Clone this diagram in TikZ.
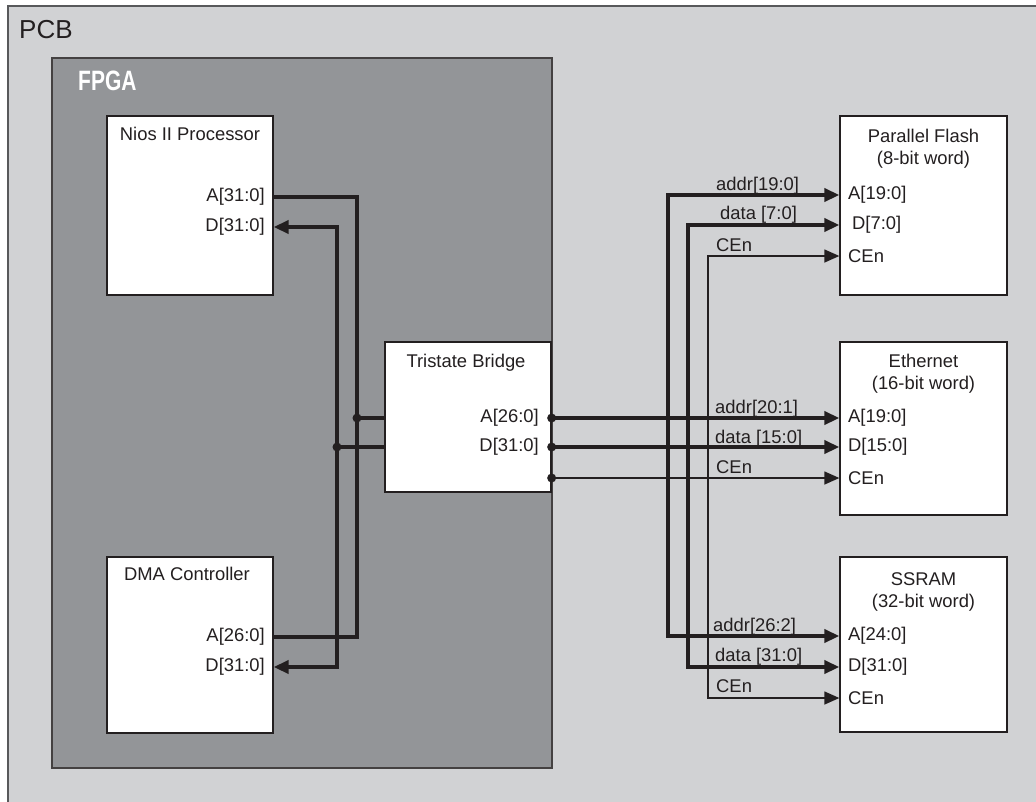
\documentclass[tikz,border=0pt]{standalone}
\usepackage{fontspec}
\setmainfont{Liberation Sans}
\usepackage{graphicx}
\usepackage{xcolor}
\usetikzlibrary{positioning,arrows.meta,calc}

\definecolor{pcbgray}{HTML}{D1D2D4}
\definecolor{fpgagray}{HTML}{939598}
\definecolor{ink}{HTML}{231F20}
\definecolor{pcbline}{HTML}{58595B}

\begin{document}
\begin{tikzpicture}[x=1pt, y=-1pt,
  box/.style={draw=ink, line width=1.3pt, fill=white, minimum width=166pt, inner sep=0pt},
  ttl/.style={font=\fontsize{18.4}{22}\selectfont, align=center, inner sep=0pt, text=ink},
  port/.style={font=\fontsize{18.4}{22}\selectfont, inner sep=0pt, text=ink},
  sig/.style={font=\fontsize{18.4}{22}\selectfont, inner sep=0pt, anchor=base west, text=ink},
  bus/.style={draw=ink, line width=4pt},
  ctl/.style={draw=ink, line width=1.3pt},
  arr/.style={-{Triangle[length=15pt, width=13pt]}},
  both/.style={{Triangle[length=15pt, width=13pt]}-{Triangle[length=15pt, width=13pt]}}
]
\useasboundingbox (0,0) rectangle (1036,801);
\clip (0,0) rectangle (1036,801);

% board and chip
\draw[draw=pcbline, line width=2pt, fill=pcbgray] (8,6) rectangle (1060,830);
\draw[draw=ink!85, line width=1.5pt, fill=fpgagray] (52,58) rectangle (552,768);
\node[font=\fontsize{26}{30}\selectfont, anchor=base west, inner sep=0pt, text=ink] (pcbT) at (19,38) {PCB};
\node[font=\fontsize{28}{32}\selectfont\bfseries, anchor=base west, inner sep=0pt, text=white] (fpgaT) at (78,90) {\scalebox{0.75}[1]{FPGA}};

% blocks
\node[box, minimum height=179pt] (nios) at (190,205.5) {};
\node[box, minimum height=176pt] (dma) at (190,645) {};
\node[box, minimum height=150pt] (bridge) at (468,417) {};
\node[box, minimum width=167pt, minimum height=179pt] (flash) at (923.5,205.5) {};
\node[box, minimum width=167pt, minimum height=173pt] (eth) at (923.5,428.5) {};
\node[box, minimum width=167pt, minimum height=175pt] (ssram) at (923.5,644.5) {};

\node[ttl, below=12pt of nios.north] (niosT) {Nios II Processor};
\node[ttl, below=11pt of dma.north, xshift=-3pt] (dmaT) {DMA Controller};
\node[ttl, below=13pt of bridge.north, xshift=-2pt] (bridgeT) {Tristate Bridge};
\node[ttl, below=14pt of flash.north] (flashT) {Parallel Flash\\(8-bit word)};
\node[ttl, below=13pt of eth.north] (ethT) {Ethernet\\(16-bit word)};
\node[ttl, below=16pt of ssram.north] (ssramT) {SSRAM\\(32-bit word)};

% ports
\node[port, anchor=east] (niosA) at (265,197) {A[31:0]};
\node[port, anchor=east] (niosD) at (265,227) {D[31:0]};
\node[port, anchor=east] (dmaA) at (265,637) {A[26:0]};
\node[port, anchor=east] (dmaD) at (265,667) {D[31:0]};
\node[port, anchor=east] (brA) at (539,418) {A[26:0]};
\node[port, anchor=east] (brD) at (539,447) {D[31:0]};
\coordinate (brC) at (551,478);
\node[port, anchor=west] (flA) at (848,195) {A[19:0]};
\node[port, anchor=west] (flD) at (852,225) {D[7:0]};
\node[port, anchor=west] (flC) at (848,256) {CEn};
\node[port, anchor=west] (ethA) at (848,418) {A[19:0]};
\node[port, anchor=west] (ethD) at (848,447) {D[15:0]};
\node[port, anchor=west] (ethC) at (848,478) {CEn};
\node[port, anchor=west] (ssA) at (848,636) {A[24:0]};
\node[port, anchor=west] (ssD) at (848,667) {D[31:0]};
\node[port, anchor=west] (ssC) at (848,698) {CEn};

% bus columns
\coordinate (vD) at (337,0);
\coordinate (vA) at (357,0);
\coordinate (hA) at (668,0);
\coordinate (hD) at (688,0);
\coordinate (hC) at (708,0);

% inside the FPGA
\draw[bus] (nios.east |- niosA) -| (vA |- dmaA) -- (dma.east |- dmaA);
\draw[bus, both] (nios.east |- niosD) -| (vD |- dmaD) -- (dma.east |- dmaD);
\draw[bus] (vA |- brA) -- (bridge.west |- brA);
\draw[bus] (vD |- brD) -- (bridge.west |- brD);

% on the board
\draw[bus, arr] (bridge.east |- brA) -- (eth.west |- ethA);
\draw[bus, arr] (bridge.east |- brD) -- (eth.west |- ethD);
\draw[ctl, arr] (brC) -- (eth.west |- ethC);
\draw[bus, both] (flash.west |- flA) -| (hA |- ssA) -- (ssram.west |- ssA);
\draw[bus, both] (flash.west |- flD) -| (hD |- ssD) -- (ssram.west |- ssD);
\draw[ctl, both] (flash.west |- flC) -| (hC |- ssC) -- (ssram.west |- ssC);

\foreach \c/\r in {vA/brA, vD/brD, bridge.east/brA, bridge.east/brD, bridge.east/brC}
  \fill[ink] (\c |- \r) circle (4.5pt);

% signal names
\node[sig] (flAs) at (716,190) {addr[19:0]};
\node[sig] (flDs) at (720,219) {data [7:0]};
\node[sig] (flCs) at (716,251) {CEn};
\node[sig] (ethAs) at (715,413) {addr[20:1]};
\node[sig] (ethDs) at (715,443) {data [15:0]};
\node[sig] (ethCs) at (716,473) {CEn};
\node[sig] (ssAs) at (713,631) {addr[26:2]};
\node[sig] (ssDs) at (715,661) {data [31:0]};
\node[sig] (ssCs) at (716,692) {CEn};
\end{tikzpicture}
\end{document}
